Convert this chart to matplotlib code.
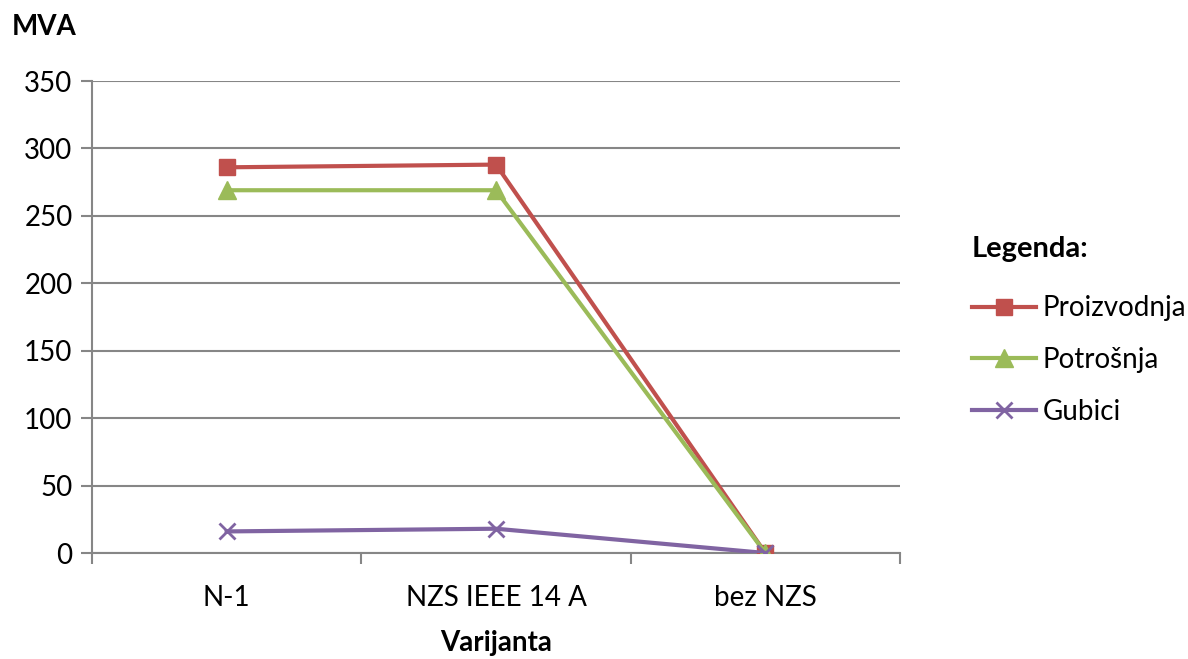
import matplotlib.pyplot as plt
import numpy as np

plt.rcParams['font.family'] = ['Lato', 'DejaVu Sans']

varijante = ['N-1', 'NZS IEEE 14 A', 'bez NZS']
proizvodnja = [286, 288, 0]
potrosnja = [269, 269, 0]
gubici = [16, 18, 0]

grey = '#868686'

fig = plt.figure(figsize=(11.88, 6.59), dpi=100)
ax = fig.add_axes([92 / 1188, 1 - 553 / 659, 808 / 1188, 472 / 659])

x = np.arange(len(varijante))
ax.plot(x, proizvodnja, color='#C0504D', lw=3, marker='s', markersize=12, label='Proizvodnja', zorder=3)
ax.plot(x, potrosnja, color='#9BBB59', lw=3, marker='^', markersize=13, label='Potrošnja', zorder=4)
ax.plot(x, gubici, color='#8064A2', lw=3, marker='x', markersize=12, markeredgewidth=2, label='Gubici', zorder=5)

ax.set_xlim(-0.5, len(varijante) - 0.5)
ax.set_ylim(0, 350)
ax.set_yticks(np.arange(0, 351, 50))
ax.set_xticks(x)
ax.set_xticklabels(varijante)
ax.set_xticks(np.arange(-0.5, len(varijante), 1.0), minor=True)
ax.tick_params(axis='x', which='major', length=0, pad=23, labelsize=20)
ax.tick_params(axis='x', which='minor', length=8, width=1.5, color=grey)
ax.tick_params(axis='y', length=8, width=1.5, color=grey, labelsize=20, pad=6)

ax.grid(axis='y', color=grey, lw=1.5)
ax.set_axisbelow(True)
for s in ['top', 'right']:
    ax.spines[s].set_visible(False)
for s in ['left', 'bottom']:
    ax.spines[s].set_color(grey)
    ax.spines[s].set_linewidth(1.5)

ax.set_xlabel('Varijanta', fontsize=20, fontweight='bold', labelpad=14)
fig.text(12 / 1188, 1 - 27 / 659, 'MVA', fontsize=20, fontweight='bold', va='center', ha='left')

leg = ax.legend(loc='upper left', bbox_to_anchor=(958 / 1188, 1 - 222 / 659), bbox_transform=fig.transFigure,
                frameon=False, fontsize=20, title='Legenda:', handlelength=2.3, labelspacing=0.93,
                handletextpad=0.25, borderpad=0)
leg.get_title().set_fontweight('bold')
leg.get_title().set_fontsize(21)
leg._legend_box.align = 'left'
leg._legend_box.sep = 24

fig.savefig('out.png', dpi=100)
